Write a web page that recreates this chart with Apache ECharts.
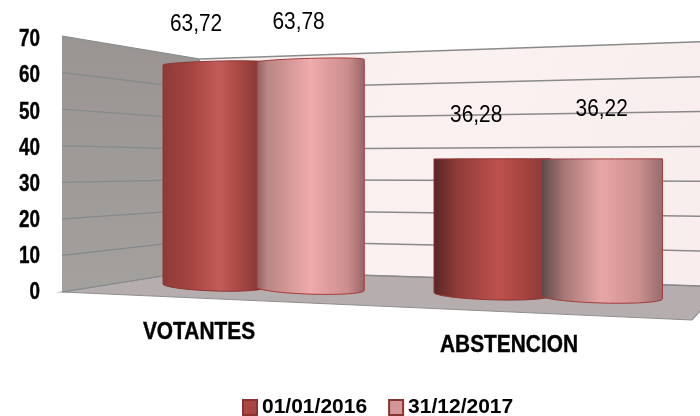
<!DOCTYPE html>
<html><head><meta charset="utf-8">
<style>html,body{margin:0;padding:0;background:#fff}#c{width:700px;height:416px}</style>
<script src="https://cdn.jsdelivr.net/npm/echarts@6/dist/echarts.min.js"></script>
</head><body><div id="c"></div>
<script>
const categories = ['VOTANTES', 'ABSTENCION'];
const seriesNames = ['01/01/2016', '31/12/2017'];
const values2016 = [63.72, 36.28];
const values2017 = [63.78, 36.22];
const valueLabels2016 = ['63,72', '36,28'];
const valueLabels2017 = ['63,78', '36,22'];
const yTicks = [0, 10, 20, 30, 40, 50, 60, 70];

const FONT = '"Liberation Sans",Arial,sans-serif';
const GRID = {left: 62, top: 36, width: 638, height: 256};

// camera: flat grid position -> perspective screen position
function camU(fx, p) { const b = p.band; return (fx - GRID.left - b / 2) / b + 0.3775; }
function camX(u) { return 163 + 253 * u + 18 * u * u; }
function camY(u, fy) {
  const h = GRID.top + GRID.height - fy;
  return 284 + 8.5 * u - h * (3.437 + 0.245 * u) / (GRID.height / 70);
}
function bulge(y) { return y < 160 ? 0.025 * (160 - y) : 0.042 * (y - 160); }
const lerp = (a, b, t) => a + (b - a) * t;

// walls
const wall = {
  outerX: 62, cornerX: 200, farX: 722,
  outer: [292, 36], corner: [270, 59], far: [286.7, 41],
  front: [692, 320]
};
function frac(api, tick) { return (GRID.top + GRID.height - api.coord([0, tick])[1]) / GRID.height; }

function renderWalls(params, api) {
  const o = wall.outer, c = wall.corner, f = wall.far;
  return {type: 'group', children: [
    {type: 'polygon', shape: {points: [[wall.outerX, o[1]], [wall.cornerX, c[1]], [wall.cornerX, c[0]], [wall.outerX, o[0]]]},
      style: {fill: new echarts.graphic.LinearGradient(0, 0, 0, 1, [{offset: 0, color: '#9a9492'}, {offset: 1, color: '#a3a09e'}])}},
    {type: 'polygon', shape: {points: [[wall.cornerX, c[1]], [wall.farX, f[1]], [wall.farX, f[0]], [wall.cornerX, c[0]]]},
      style: {fill: new echarts.graphic.LinearGradient(0, 0, 1, 1, [{offset: 0, color: '#faefef'}, {offset: 0.5, color: '#fbf1f1'}, {offset: 1, color: '#f8ecec'}])}},
    {type: 'polygon', shape: {points: [[wall.outerX, o[0]], [wall.cornerX, c[0]], [wall.farX, f[0]], wall.front]},
      style: {fill: '#b6aeae', stroke: '#8f8f8f', lineWidth: 1.2}}
  ]};
}
function renderGridline(params, api) {
  const t = frac(api, api.value(0));
  const o = lerp(wall.outer[0], wall.outer[1], t), c = lerp(wall.corner[0], wall.corner[1], t), f = lerp(wall.far[0], wall.far[1], t);
  return {type: 'group', children: [
    {type: 'line', shape: {x1: wall.outerX, y1: o, x2: wall.cornerX, y2: c}, style: {stroke: '#858b8b', lineWidth: 1.2}},
    {type: 'line', shape: {x1: wall.cornerX, y1: c, x2: wall.farX, y2: f}, style: {stroke: '#8a8a8a', lineWidth: 1.5}}
  ]};
}
function narrowText(text, x, y, size, weight, sx) {
  const bold = weight === 'bold';
  return {type: 'text', x: x, y: y, scaleX: sx, z2: 20,
    style: {text: text, x: 0, y: 0, fill: '#000', font: weight + ' ' + size + 'px ' + FONT, align: 'center', verticalAlign: 'middle',
      stroke: bold ? '#000' : null, lineWidth: bold ? 0.4 : 0}};
}
function renderTickLabel(params, api) {
  const v = api.value(0);
  const y = api.coord([0, v])[1] + 1 + 3 * v / 70;
  return {type: 'text', x: 40, y: y, scaleX: 0.82, z2: 20,
    style: {text: String(v), x: 0, y: 0, fill: '#000', font: 'bold 23px ' + FONT, align: 'right', verticalAlign: 'middle',
      stroke: '#000', lineWidth: 0.4}};
}

// cylinders
const barW = 0.393;
function cylinder(opts) {
  return function (params, api) {
    const cat = api.value(0);
    const p = {band: api.size([1, 0])[0]};
    const top = api.coord([cat, api.value(1)]);
    const base = api.coord([cat, 0]);
    const fx = top[0] + p.band * opts.offset;
    const u0 = camU(fx, p), u1 = u0 + barW;
    const x0 = camX(u0), x1 = camX(u1);
    const yt0 = camY(u0, top[1]), yt1 = camY(u1, top[1]);
    const yb0 = camY(u0, base[1]), yb1 = camY(u1, base[1]);
    const pts = [], n = 28;
    for (let i = 0; i <= n; i++) {
      const a = Math.PI * i / n, t = (1 - Math.cos(a)) / 2, y = lerp(yt0, yt1, t);
      pts.push([lerp(x0, x1, t), y - Math.sin(a) * bulge(y)]);
    }
    for (let i = 0; i <= n; i++) {
      const a = Math.PI * i / n, t = (1 - Math.cos(a)) / 2, y = lerp(yb1, yb0, t);
      pts.push([lerp(x1, x0, t), y + Math.sin(a) * bulge(y)]);
    }
    const stops = opts.shades[cat].map(s => ({offset: s[0], color: s[1]}));
    const shift = opts.labelShift[cat];
    return {type: 'group', children: [
      {type: 'polygon', shape: {points: pts},
        style: {fill: new echarts.graphic.LinearGradient(0, 0, 1, 0, stops), stroke: opts.edge, lineWidth: 1}},
      narrowText(opts.labels[cat], (x0 + x1) / 2 + shift[0], Math.min(yt0, yt1) + shift[1], 24, 'normal', 0.87)
    ]};
  };
}
function renderCategory(params, api) {
  const cat = api.value(0);
  const pos = [[199, 332], [509, 345]][cat];
  return narrowText(categories[cat], pos[0], pos[1], 24, 'bold', 0.87);
}

const chart = echarts.init(document.getElementById('c'), null, {renderer: 'canvas'});
const toData = arr => arr.map((v, i) => [i, v]);
chart.setOption({
  animation: false,
  backgroundColor: '#fff',
  grid: GRID,
  xAxis: {type: 'category', data: categories, show: false},
  yAxis: {type: 'value', min: 0, max: 70, interval: 10,
    axisLine: {show: false}, axisTick: {show: false}, splitLine: {show: false}, axisLabel: {show: false}},
  legend: {data: seriesNames, left: 242, top: 397, padding: 0, itemWidth: 14, itemHeight: 15, itemGap: 21,
    icon: 'rect', selectedMode: false,
    textStyle: {color: '#000', fontFamily: FONT, fontWeight: 'bold', fontSize: 21}},
  series: [
    {type: 'custom', name: 'walls', z: 1, silent: true, data: [[0]], renderItem: renderWalls, encode: {x: [], y: []}},
    {type: 'custom', name: 'lines', z: 2, silent: true, data: yTicks.map(t => [t]), renderItem: renderGridline, encode: {x: [], y: 0}},
    {type: 'custom', name: seriesNames[0], z: 3, silent: true, data: toData(values2016),
      itemStyle: {color: '#a94543', borderColor: '#8a3331', borderWidth: 1},
      encode: {x: 0, y: 1},
      renderItem: cylinder({offset: -0.3775, labels: valueLabels2016, edge: '#8c3634',
        labelShift: [[-18, -38], [-16, -43]],
        shades: [
          [[0, '#8e3a38'], [0.25, '#a3423f'], [0.55, '#c45c58'], [0.8, '#a0423f'], [1, '#7a3230']],
          [[0, '#5a2423'], [0.2, '#8e3c39'], [0.55, '#bf514d'], [0.85, '#9a3f3c'], [1, '#873836']]
        ]})},
    {type: 'custom', name: seriesNames[1], z: 4, silent: true, data: toData(values2017),
      itemStyle: {color: '#d49697', borderColor: '#8a3331', borderWidth: 1},
      encode: {x: 0, y: 1},
      renderItem: cylinder({offset: -0.0155, labels: valueLabels2017, edge: '#a33b3d',
        labelShift: [[-12, -37], [0, -49]],
        shades: [
          [[0, '#8c5f5f'], [0.1, '#bb8585'], [0.5, '#f0abab'], [0.85, '#c98c8c'], [1, '#996464']],
          [[0, '#5c4747'], [0.2, '#aa7878'], [0.5, '#e9a6a6'], [0.8, '#cc8e8e'], [1, '#966c6c']]
        ]})},
    {type: 'custom', name: 'categoryNames', z: 5, silent: true, data: categories.map((c, i) => [i]),
      renderItem: renderCategory, encode: {x: 0, y: []}},
    {type: 'custom', name: 'tickLabels', z: 6, silent: true, data: yTicks.map(t => [t]),
      renderItem: renderTickLabel, encode: {x: [], y: 0}}
  ]
});
</script></body></html>
